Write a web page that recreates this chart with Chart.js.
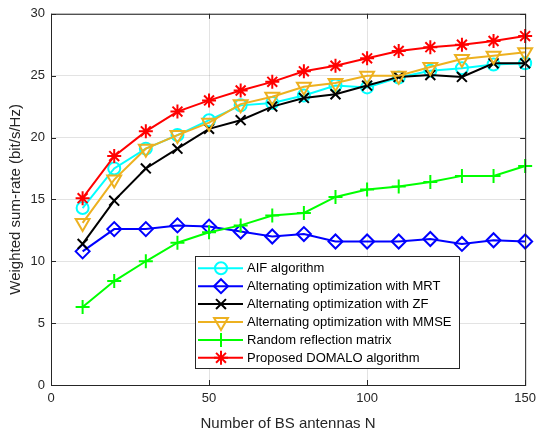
<!DOCTYPE html>
<html>
<head>
<meta charset="utf-8">
<script src="https://cdn.jsdelivr.net/npm/chart.js@4.4.0/dist/chart.umd.min.js"></script>
<style>
  html, body { margin: 0; padding: 0; background: #ffffff; }
  #wrap { width: 542px; height: 437px; }
</style>
</head>
<body>
<div id="wrap"><canvas id="c" width="542" height="437"></canvas></div>
<script>
// Number of BS antennas
const antennas = [10, 20, 30, 40, 50, 60, 70, 80, 90, 100, 110, 120, 130, 140, 150];

// Weighted sum-rate (bit/s/Hz) per scheme
const aif      = [14.3, 17.5, 19.1, 20.2, 21.4, 22.6, 22.8, 23.4, 24.2, 24.05, 24.85, 25.4, 25.6, 25.9, 26.0];
const mrt      = [10.8, 12.6, 12.6, 12.9, 12.8, 12.4, 12.0, 12.2, 11.6, 11.6, 11.6, 11.8, 11.4, 11.7, 11.6];
const zf       = [11.4, 14.9, 17.5, 19.1, 20.7, 21.4, 22.5, 23.2, 23.5, 24.2, 24.9, 25.05, 24.9, 26.0, 26.0];
const mmse     = [13.1, 16.6, 19.1, 20.2, 21.2, 22.7, 23.3, 24.1, 24.4, 25.0, 25.0, 25.7, 26.35, 26.6, 26.9];
const randomRM = [6.3, 8.4, 10.0, 11.5, 12.35, 12.9, 13.7, 13.9, 15.2, 15.8, 16.05, 16.4, 16.9, 16.9, 17.7];
const domalo   = [15.1, 18.5, 20.5, 22.1, 23.0, 23.8, 24.5, 25.35, 25.8, 26.4, 27.0, 27.3, 27.5, 27.8, 28.2];

// Axis ticks
const xTicks = [0, 50, 100, 150];
const yTicks = [0, 5, 10, 15, 20, 25, 30];

const seriesNames = [
  'AIF algorithm',
  'Alternating optimization with MRT',
  'Alternating optimization with ZF',
  'Alternating optimization with MMSE',
  'Random reflection matrix',
  'Proposed DOMALO algorithm'
];
const seriesValues = [aif, mrt, zf, mmse, randomRM, domalo];
const seriesColors = ['#00FFFF', '#0000FF', '#000000', '#EDB120', '#00FF00', '#FF0000'];
const seriesMarkers = [
  { pointStyle: 'circle',   radius: 6, rotation: 0 },
  { pointStyle: 'rectRot',  radius: 7, rotation: 0 },
  { pointStyle: 'crossRot', radius: 7, rotation: 0 },
  { pointStyle: 'triangle', radius: 8, rotation: 180 },
  { pointStyle: 'cross',    radius: 7, rotation: 0 },
  { pointStyle: 'star',     radius: 7, rotation: 0 }
];

const FONT = '"Liberation Sans", Arial, Helvetica, sans-serif';
const AXIS_COLOR = '#262626';

const datasets = seriesValues.map((vals, i) => ({
  label: seriesNames[i],
  data: antennas.map((n, k) => ({ x: n, y: vals[k] })),
  borderColor: seriesColors[i],
  backgroundColor: 'rgba(0,0,0,0)',
  borderWidth: 2,
  pointStyle: seriesMarkers[i].pointStyle,
  pointRadius: seriesMarkers[i].radius,
  pointRotation: seriesMarkers[i].rotation,
  pointBorderColor: seriesColors[i],
  pointBackgroundColor: 'rgba(0,0,0,0)',
  pointBorderWidth: 2,
  pointHoverRadius: seriesMarkers[i].radius,
  tension: 0,
  fill: false,
  clip: false,
  order: -i
}));

// Axes box with inward tick marks on all four sides
const boxPlugin = {
  id: 'boxPlugin',
  afterDatasetsDraw(chart) {
    const { ctx, chartArea: a, scales } = chart;
    const tl = 5;
    ctx.save();
    ctx.strokeStyle = AXIS_COLOR;
    ctx.lineWidth = 1;
    ctx.strokeRect(a.left + 0.5, a.top + 0.5, a.right - a.left, a.bottom - a.top);
    ctx.beginPath();
    xTicks.forEach(v => {
      const px = Math.round(scales.x.getPixelForValue(v)) + 0.5;
      ctx.moveTo(px, a.bottom); ctx.lineTo(px, a.bottom - tl);
      ctx.moveTo(px, a.top); ctx.lineTo(px, a.top + tl);
    });
    yTicks.forEach(v => {
      const py = Math.round(scales.y.getPixelForValue(v)) + 0.5;
      ctx.moveTo(a.left, py); ctx.lineTo(a.left + tl, py);
      ctx.moveTo(a.right, py); ctx.lineTo(a.right - tl, py);
    });
    ctx.stroke();
    ctx.restore();
  }
};

// Legend drawn inside the plot area, line + marker per entry
const insideLegend = {
  id: 'insideLegend',
  afterDraw(chart) {
    const { ctx } = chart;
    const bx = 195, by = 256, bw = 264, bh = 112;
    const rowH = 17.9, firstRow = by + 12.3;
    ctx.save();
    ctx.fillStyle = '#ffffff';
    ctx.fillRect(bx, by, bw, bh);
    ctx.strokeStyle = AXIS_COLOR;
    ctx.lineWidth = 1;
    ctx.strokeRect(bx + 0.5, by + 0.5, bw, bh);
    const drawPoint = Chart.helpers && Chart.helpers.drawPoint;
    chart.data.datasets.forEach((ds, i) => {
      const y = firstRow + i * rowH;
      ctx.strokeStyle = ds.borderColor;
      ctx.lineWidth = ds.borderWidth;
      ctx.beginPath();
      ctx.moveTo(bx + 3, y);
      ctx.lineTo(bx + 48, y);
      ctx.stroke();
      if (drawPoint) {
        ctx.strokeStyle = ds.pointBorderColor;
        ctx.fillStyle = ds.pointBackgroundColor;
        ctx.lineWidth = ds.pointBorderWidth;
        drawPoint(ctx, {
          pointStyle: ds.pointStyle,
          rotation: ds.pointRotation,
          radius: ds.pointRadius,
          borderWidth: ds.pointBorderWidth
        }, bx + 26, y);
      }
      ctx.fillStyle = '#000000';
      ctx.font = '13px ' + FONT;
      ctx.textBaseline = 'middle';
      ctx.textAlign = 'left';
      ctx.fillText(ds.label, bx + 52, y + 0.5);
    });
    ctx.restore();
  }
};

new Chart(document.getElementById('c'), {
  type: 'line',
  data: { datasets },
  options: {
    responsive: false,
    animation: false,
    devicePixelRatio: 1,
    layout: { padding: { top: 7, right: 12, left: 0, bottom: 0 } },
    plugins: {
      legend: { display: false },
      tooltip: { enabled: false }
    },
    scales: {
      x: {
        type: 'linear',
        min: 0, max: 150,
        afterFit(s) { s.height = 52; },
        afterBuildTicks(s) { s.ticks = xTicks.map(v => ({ value: v })); },
        ticks: { color: AXIS_COLOR, font: { family: FONT, size: 13 }, padding: 6, maxRotation: 0 },
        grid: { color: 'rgba(38,38,38,0.13)', drawTicks: false, lineWidth: 1 },
        border: { display: false },
        title: {
          display: true,
          text: 'Number of BS antennas N',
          color: AXIS_COLOR,
          font: { family: FONT, size: 15 },
          padding: { top: 0, bottom: 4 }
        }
      },
      y: {
        type: 'linear',
        min: 0, max: 30,
        afterFit(s) { s.width = 51; },
        afterBuildTicks(s) { s.ticks = yTicks.map(v => ({ value: v })); },
        ticks: { color: AXIS_COLOR, font: { family: FONT, size: 13 }, padding: 6 },
        grid: { color: 'rgba(38,38,38,0.13)', drawTicks: false, lineWidth: 1 },
        border: { display: false },
        title: {
          display: true,
          text: 'Weighted sum-rate (bit/s/Hz)',
          color: AXIS_COLOR,
          font: { family: FONT, size: 15 },
          padding: { top: 7, bottom: 0 }
        }
      }
    }
  },
  plugins: [boxPlugin, insideLegend]
});
</script>
</body>
</html>
